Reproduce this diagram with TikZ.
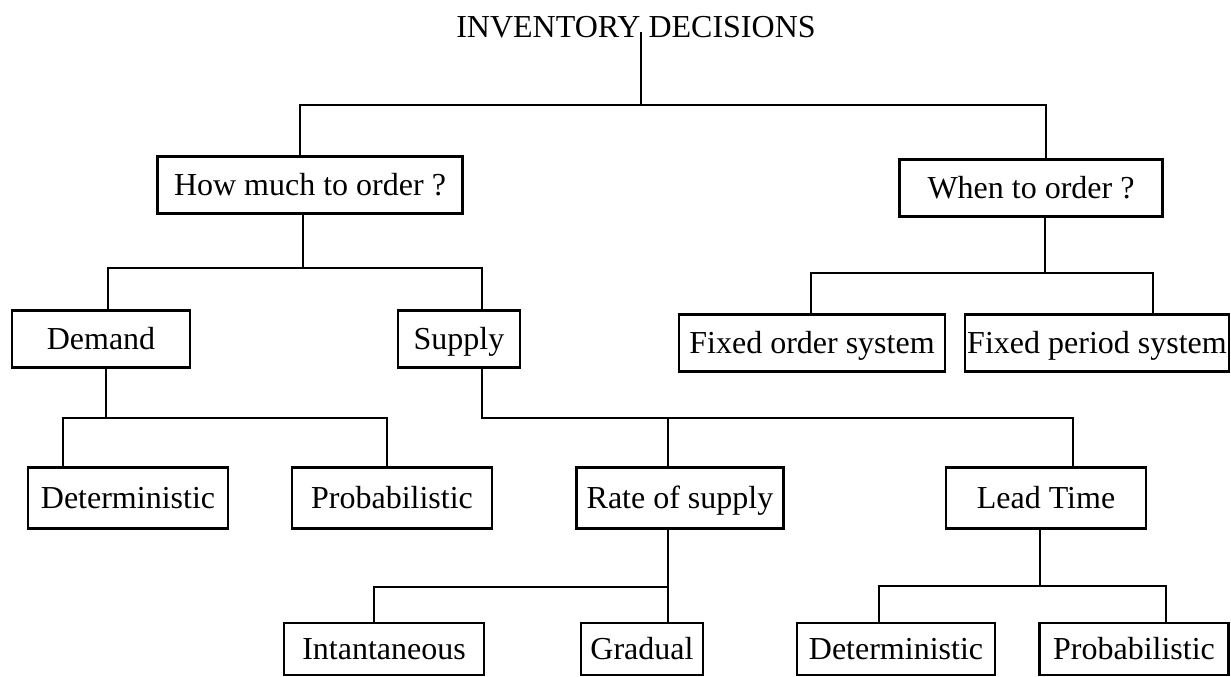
\documentclass[tikz,border=0pt]{standalone}
\usepackage{fontspec}
\setmainfont{Liberation Serif}

\begin{document}
\begin{tikzpicture}[x=1pt, y=-1pt, line width=2.8pt,
  every node/.style={font=\fontsize{32}{36}\selectfont},
  box/.style={draw, inner sep=0pt, text height=21pt, text depth=0pt,
    minimum height=57pt, minimum width=#1}]

  \useasboundingbox (0,0) rectangle (1231,677);

  % Title
  \node[anchor=base] (title) at (636,38) {INVENTORY DECISIONS};

  % First level
  \node[box=305pt] (how) at (310,185) {How much to order ?};
  \node[box=263pt] (when) at (1031,188) {When to order ?};

  % Second level
  \node[box=178pt] (demand) at (101,339) {Demand};
  \node[box=122pt] (supply) at (459,339) {Supply};
  \node[box=266pt] (fixord) at (812,343) {Fixed order system};
  \node[box=264pt] (fixper) at (1097,343) {Fixed period system};

  % Third level
  \node[box=200pt, minimum height=61pt] (det1) at (128,498) {Deterministic};
  \node[box=200pt, minimum height=61pt] (prob1) at (392,498) {Probabilistic};
  \node[box=207pt, minimum height=61pt] (rate) at (680,498) {Rate of supply};
  \node[box=200pt, minimum height=61pt] (lead) at (1046,498) {Lead Time};

  % Fourth level
  \node[box=200pt, minimum height=52pt] (inst) at (384,649) {Intantaneous};
  \node[box=122pt, minimum height=52pt] (grad) at (642,649) {Gradual};
  \node[box=198pt, minimum height=52pt] (det2) at (896,649) {Deterministic};
  \node[box=189pt, minimum height=52pt] (prob2) at (1134,649) {Probabilistic};

  % Junctions of the connectors
  \coordinate (j0) at (641,105);
  \coordinate (j0l) at (300,105);
  \coordinate (j0r) at (1046,105);
  \coordinate (j1) at (303,268);
  \coordinate (j1l) at (108,268);
  \coordinate (j1r) at (482,268);
  \coordinate (j2) at (1045,273);
  \coordinate (j2l) at (811,273);
  \coordinate (j2r) at (1153,273);
  \coordinate (j3) at (106,418);
  \coordinate (j3l) at (63,418);
  \coordinate (j3r) at (387,418);
  \coordinate (j4) at (482,418);
  \coordinate (j4m) at (668,418);
  \coordinate (j4r) at (1073,418);
  \coordinate (j5) at (668,587);
  \coordinate (j5l) at (374,587);
  \coordinate (j6) at (1040,586);
  \coordinate (j6l) at (879,586);
  \coordinate (j6r) at (1166,586);

  % Connectors
  \draw ([yshift=6pt]title.base -| j0) -- (j0);
  \draw (how.north -| j0l) -- (j0l) -- (j0r) -- (when.north -| j0r);

  \draw (how.south -| j1) -- (j1);
  \draw (demand.north -| j1l) -- (j1l) -- (j1r) -- (supply.north -| j1r);

  \draw (when.south -| j2) -- (j2);
  \draw (fixord.north -| j2l) -- (j2l) -- (j2r) -- (fixper.north -| j2r);

  \draw (demand.south -| j3) -- (j3);
  \draw (det1.north -| j3l) -- (j3l) -- (j3r) -- (prob1.north -| j3r);

  \draw (supply.south -| j4) -- (j4) -- (j4r) -- (lead.north -| j4r);
  \draw (j4m) -- (rate.north -| j4m);

  \draw (rate.south -| j5) -- (grad.north -| j5);
  \draw (j5) -- (j5l) -- (inst.north -| j5l);

  \draw (lead.south -| j6) -- (j6);
  \draw (det2.north -| j6l) -- (j6l) -- (j6r) -- (prob2.north -| j6r);

\end{tikzpicture}
\end{document}
